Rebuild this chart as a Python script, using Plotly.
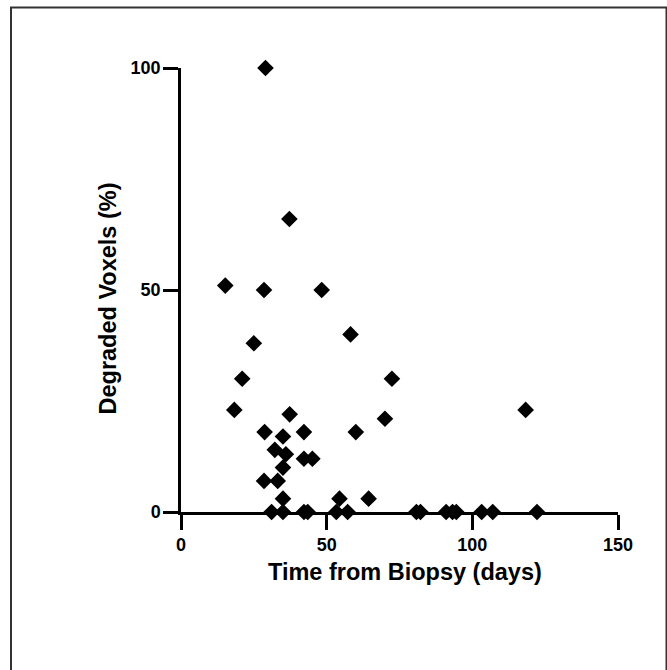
import plotly.graph_objects as go

# Data
days = [29.0, 37.2, 15.2, 28.5, 48.3, 58.2, 25.0, 21.0, 72.4, 18.3, 118.3,
        37.3, 70.0, 28.7, 42.2, 60.0, 35.0, 32.2, 36.0, 42.2, 45.1, 35.0,
        28.5, 33.2, 35.0, 54.4, 64.4,
        31.1, 35.0, 42.2, 43.5, 53.3, 57.2, 80.8, 82.2, 91.0, 93.2, 94.5,
        103.2, 107.0, 122.2]
degraded = [100, 66, 51, 50, 50, 40, 38, 30, 30, 23, 23,
            22, 21, 18, 18, 18, 17, 14, 13, 12, 12, 10,
            7, 7, 3, 3, 3,
            0, 0, 0, 0, 0, 0, 0, 0, 0, 0, 0,
            0, 0, 0]

x_ticks = [0, 50, 100, 150]
y_ticks = [0, 50, 100]
x_title = "Time from Biopsy (days)"
y_title = "Degraded Voxels (%)"

FONT = "Liberation Sans, Arial, sans-serif"

fig = go.Figure()
fig.add_trace(go.Scatter(
    x=days, y=degraded, mode="markers",
    marker=dict(symbol="diamond", size=12.8, color="black", line=dict(width=0)),
    cliponaxis=False, showlegend=False, hoverinfo="x+y",
))

axis_common = dict(
    showline=True, linecolor="black", linewidth=2.5,
    ticks="outside", ticklen=15, tickwidth=2.5, tickcolor="black",
    showgrid=False, zeroline=False,
    tickfont=dict(family=FONT, size=18, color="black", weight=700),
)

fig.update_layout(
    width=667, height=670,
    margin=dict(l=181, r=49, t=68, b=158),
    paper_bgcolor="white", plot_bgcolor="white",
    xaxis=dict(range=[0, 150], tickvals=x_ticks,
               ticktext=[f"<b>{v}</b>" for v in x_ticks], **axis_common),
    yaxis=dict(range=[0, 100], tickvals=y_ticks, ticklabelstandoff=-1,
               ticktext=[f"<b>{v}</b>" for v in y_ticks], **axis_common),
    shapes=[dict(type="rect", xref="paper", yref="paper",
                 x0=-0.389, x1=1.1110, y0=-0.4, y1=1.1363,
                 line=dict(color="#333333", width=2), fillcolor="rgba(0,0,0,0)",
                 layer="below")],
    annotations=[
        dict(text=x_title, xref="paper", yref="paper",
             x=(405 - 181) / 437, y=(512 - 572) / 444,
             xanchor="center", yanchor="middle", showarrow=False,
             font=dict(family=FONT, size=23.5, color="black", weight=700)),
        dict(text=y_title, xref="paper", yref="paper",
             x=(107.5 - 181) / 437, y=(512 - 299) / 444,
             xanchor="center", yanchor="middle", showarrow=False, textangle=-90,
             font=dict(family=FONT, size=23.5, color="black", weight=700)),
    ],
)

fig.write_html("out.html", config={"displayModeBar": False},
               post_script="document.body.style.margin='0';")
